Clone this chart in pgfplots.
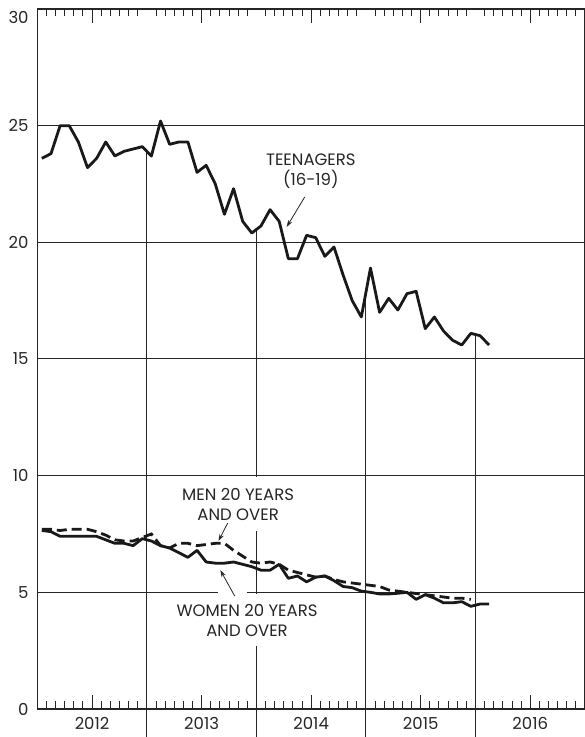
\documentclass[border=0pt]{standalone}
\usepackage{pgfplots}
\pgfplotsset{compat=1.18}
\usepackage{fontspec}
\setmainfont{Poppins}
\usetikzlibrary{arrows.meta}
\begin{document}
\fontsize{16.5}{20}\selectfont
\begin{tikzpicture}
\begin{axis}[
  width=547.7pt, height=700pt, scale only axis=true,
  xmin=0, xmax=60, ymin=0, ymax=30,
  clip=false,
  axis line style={line width=1.1pt, black!85},
  xtick={1,2,3,4,5,7,8,9,10,11,13,14,15,16,17,19,20,21,22,23,25,26,27,28,29,31,32,33,34,35,37,38,39,40,41,43,44,45,46,47,49,50,51,52,53,55,56,57,58,59},
  xticklabels={},
  xtick align=inside,
  major tick length=7.5pt,
  x tick style={line width=0.9pt, black!85},
  extra x ticks={6,18,30,42,54},
  extra x tick labels={2012,2013,2014,2015,2016},
  extra x tick style={major tick length=14pt, tick label style={yshift=-3pt}},
  ytick={0,5,10,15,20,25},
  yticklabels={0,5,10,15,20,25},
  extra y ticks={30},
  extra y tick labels={30},
  extra y tick style={tick label style={yshift=-8pt}},
  y tick style={draw=none},
  ymajorgrids=true,
  grid style={line width=1pt, black!85},
  yticklabel style={xshift=-3pt},
  /pgf/number format/assume math mode=true,
  tick label style={font=\fontsize{16.5}{18}\selectfont, text=black!85},
]
% year boundary lines below the axis
\addplot[ycomb, line width=1pt, black!85, no marks] coordinates {(12,-1.2)(24,-1.2)(36,-1.2)(48,-1.2)};
% drop lines from the teenager series
\addplot[ycomb, line width=1pt, black!85, no marks] coordinates {(12,23.9)(24,20.55)(36,17.85)(48,16.05)};
% teenagers
\addplot[line width=2.8pt, black!90, line join=round, no marks] coordinates {
(0.5,23.6)(1.5,23.8)(2.5,25.0)(3.5,25.0)(4.5,24.3)(5.5,23.2)(6.5,23.6)(7.5,24.3)(8.5,23.7)(9.5,23.9)(10.5,24.0)(11.5,24.1)
(12.5,23.7)(13.5,25.2)(14.5,24.2)(15.5,24.3)(16.5,24.3)(17.5,23.0)(18.5,23.3)(19.5,22.5)(20.5,21.2)(21.5,22.3)(22.5,20.9)(23.5,20.4)
(24.5,20.7)(25.5,21.4)(26.5,20.9)(27.5,19.3)(28.5,19.3)(29.5,20.3)(30.5,20.2)(31.5,19.4)(32.5,19.8)(33.5,18.6)(34.5,17.5)(35.5,16.8)
(36.5,18.9)(37.5,17.0)(38.5,17.6)(39.5,17.1)(40.5,17.8)(41.5,17.9)(42.5,16.3)(43.5,16.8)(44.5,16.2)(45.5,15.8)(46.5,15.6)(47.5,16.1)
(48.5,16.0)(49.5,15.6)};
% men 20 years and over (dashed)
\addplot[line width=2.8pt, black!90, dash pattern=on 10pt off 5pt, no marks] coordinates {
(0.5,7.7)(1.5,7.7)(2.5,7.65)(3.5,7.7)(4.5,7.7)(5.5,7.7)(6.5,7.6)(7.5,7.45)(8.5,7.25)(9.5,7.2)(10.5,7.2)(11.5,7.35)
(12.5,7.5)(13.5,7.0)(14.5,6.9)(15.5,7.1)(16.5,7.1)(17.5,7.0)(18.5,7.05)(19.5,7.1)(20.5,7.1)(21.5,6.8)(22.5,6.55)(23.5,6.3)
(24.5,6.25)(25.5,6.3)(26.5,6.2)(27.5,5.95)(28.5,5.85)(29.5,5.75)(30.5,5.65)(31.5,5.7)(32.5,5.55)(33.5,5.45)(34.5,5.4)(35.5,5.35)
(36.5,5.3)(37.5,5.25)(38.5,5.1)(39.5,5.05)(40.5,5.0)(41.5,4.95)(42.5,4.9)(43.5,4.85)(44.5,4.8)(45.5,4.75)(46.5,4.75)(47.5,4.7)};
% women 20 years and over (solid)
\addplot[line width=2.8pt, black!90, line join=round, no marks] coordinates {
(0.5,7.65)(1.5,7.6)(2.5,7.4)(3.5,7.4)(4.5,7.4)(5.5,7.4)(6.5,7.4)(7.5,7.25)(8.5,7.1)(9.5,7.1)(10.5,7.0)(11.5,7.3)
(12.5,7.2)(13.5,7.0)(14.5,6.9)(15.5,6.7)(16.5,6.5)(17.5,6.8)(18.5,6.3)(19.5,6.25)(20.5,6.25)(21.5,6.3)(22.5,6.2)(23.5,6.1)
(24.5,5.95)(25.5,5.95)(26.5,6.2)(27.5,5.6)(28.5,5.7)(29.5,5.45)(30.5,5.65)(31.5,5.7)(32.5,5.5)(33.5,5.25)(34.5,5.2)(35.5,5.05)
(36.5,5.0)(37.5,4.93)(38.5,4.93)(39.5,4.96)(40.5,5.0)(41.5,4.7)(42.5,4.9)(43.5,4.75)(44.5,4.55)(45.5,4.55)(46.5,4.6)(47.5,4.4)
(48.5,4.5)(49.5,4.5)};
% labels
\node[align=center, text=black!85, font=\fontsize{16.5}{20.5}\selectfont] at (axis cs:29.97,23.04) {TEENAGERS\\(16-19)};
\node[align=center, fill=white, text=black!85, minimum height=54pt, inner xsep=2pt, font=\fontsize{16.5}{20}\selectfont] at (axis cs:22.0,8.78) {MEN 20 YEARS\\AND OVER};
\node[align=center, fill=white, text=black!85, minimum height=52pt, inner xsep=2pt, font=\fontsize{16.5}{19.5}\selectfont] at (axis cs:22.98,3.80) {WOMEN 20 YEARS\\AND OVER};
\fill[white] (axis cs:19.75,4.9) rectangle (axis cs:22.95,5.1);
\draw[line width=0.8pt, black!85, -{Stealth[length=7pt,width=4.5pt]}] (axis cs:29.29,21.94) -- (axis cs:27.32,20.66);
\draw[line width=0.8pt, black!85, -{Stealth[length=7pt,width=4.5pt]}] (axis cs:20.86,7.97) -- (axis cs:19.85,7.2);
\draw[line width=0.8pt, black!85, -{Stealth[length=7pt,width=4.5pt]}] (axis cs:21.63,4.84) -- (axis cs:20.05,5.95);
\end{axis}
\pgfresetboundingbox
\path[use as bounding box] (current axis.south west) ++(-37.3pt,-28pt) rectangle ++(585pt,737pt);
\end{tikzpicture}
\end{document}
